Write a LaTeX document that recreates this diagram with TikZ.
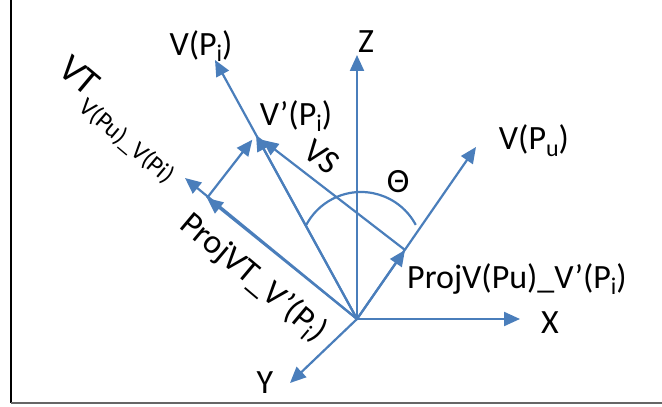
\documentclass[tikz,border=0pt]{standalone}
\usepackage{fontspec}
\setmainfont{Carlito}
\usetikzlibrary{arrows.meta}
\definecolor{vecblue}{RGB}{74,126,187}
\newcommand{\lowi}[1]{\raisebox{-.2em}{\fontsize{12}{13}\selectfont #1}}

\begin{document}
\begin{tikzpicture}[x=.5pt,y=.5pt,
  vec/.style={draw=vecblue,line width=1.1pt,-{Triangle[length=8pt,width=7pt]}},
  lbl/.style={inner sep=0pt,font=\fontsize{17}{20}\selectfont}]
\path[use as bounding box] (0,0) rectangle (662,406);
\draw[black,line width=.8pt] (11,406)--(11,3);
\draw[black!60,line width=1pt] (11,3)--(662,3);

% points
\coordinate (o) at (357,87);
\coordinate (z) at (357,351);
\coordinate (x) at (520,87);
\coordinate (y) at (290,23);
\coordinate (vpu) at (476,259);
\coordinate (projpu) at (405,156);
\coordinate (vpi) at (215,346);
\coordinate (vpii) at (256,271);
\coordinate (vt) at (185,228);
\coordinate (projvt) at (207,208);
\coordinate (arcc) at (361,152);

% axes
\draw[vec] (o)--(z);
\draw[vec] (o)--(x);
\draw[vec] (o)--(y);

% vectors
\draw[vec] (o)--(vpu);
\draw[vec] (o)--(projpu);
\draw[vec] (o)--(vpi);
\draw[vec] (o)--(vpii);
\draw[vec] (o)--(vt);
\draw[vec] (o)--(projvt);
\draw[vec,shorten >=3pt] (projvt)--(vpii);
\draw[vec,shorten >=4pt] (projpu)--(vpii);
\draw[vecblue,line width=1.1pt] (arcc) ++(28:62) arc[start angle=28,end angle=152,radius=62];

% labels
\node[lbl] (lz) at (366,364) {Z};
\node[lbl] (lx) at (550,83) {X};
\node[lbl] (ly) at (265,23) {Y};
\node[lbl] (lvpi) at (201,360) {V(P\lowi{i})};
\node[lbl] (lvpii) at (296,290) {V’(P\lowi{i})};
\node[lbl] (lvpu) at (534,265) {V(P\lowi{u})};
\node[lbl] (ltheta) at (398,224) {Θ};
\node[lbl,rotate=-37] (lvs) at (322,249) {VS};
\node[lbl,rotate=-40,font=\fontsize{19}{22}\selectfont] (lvt) at (118,286) {VT\raisebox{-.4em}{\fontsize{12.5}{14}\selectfont V(Pu)\_V(Pi)}};
\node[lbl,rotate=-40] (lprojvt) at (253,128) {ProjVT\_V’(P\lowi{i})};
\node[lbl] (lprojpu) at (517,127) {ProjV(Pu)\_V’(P\lowi{i})};
\end{tikzpicture}
\end{document}
